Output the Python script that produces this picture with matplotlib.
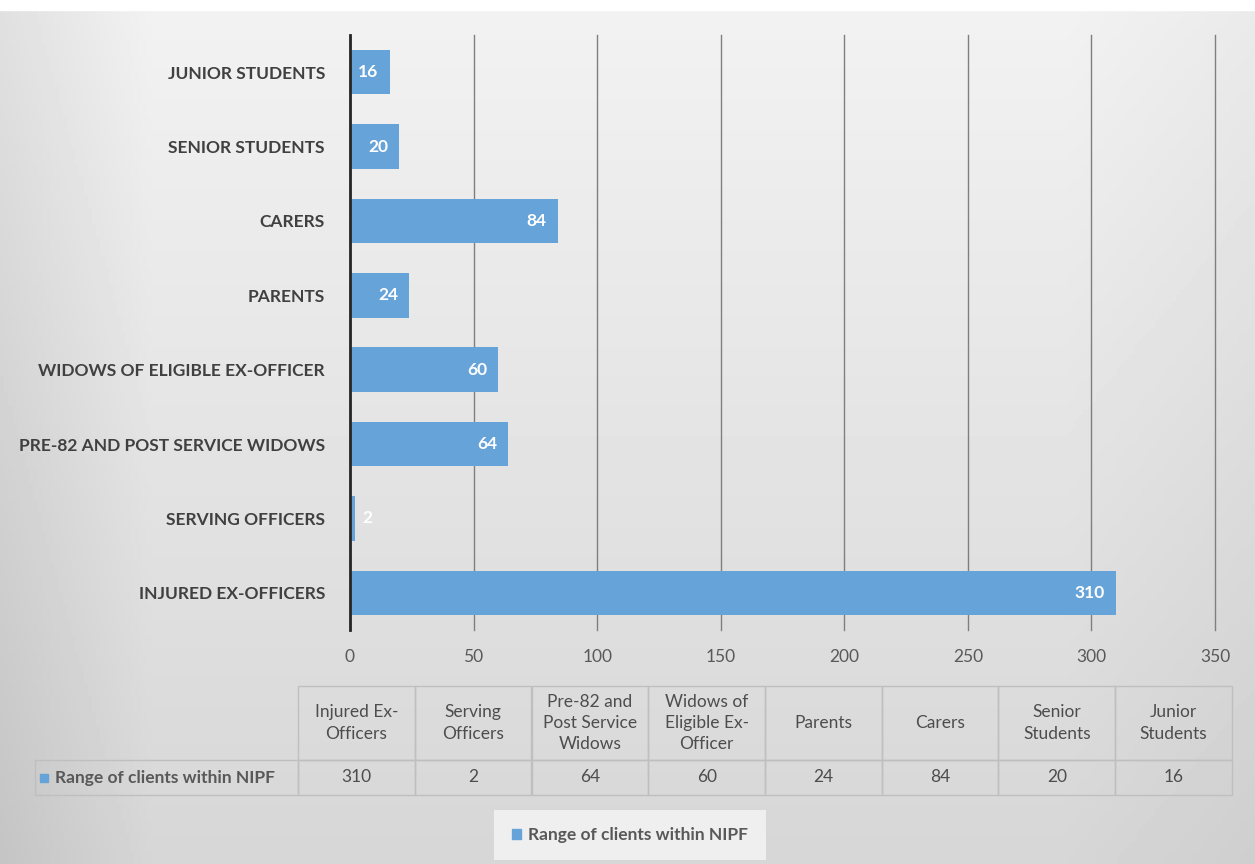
import numpy as np
import matplotlib.pyplot as plt
from matplotlib.patches import Rectangle

# data (bottom to top on the chart)
categories = ['Injured Ex-Officers', 'Serving Officers', 'Pre-82 and Post Service Widows',
              'Widows of Eligible Ex-Officer', 'Parents', 'Carers',
              'Senior Students', 'Junior Students']
table_headers = ['Injured Ex-\nOfficers', 'Serving\nOfficers', 'Pre-82 and\nPost Service\nWidows',
                 'Widows of\nEligible Ex-\nOfficer', 'Parents', 'Carers',
                 'Senior\nStudents', 'Junior\nStudents']
values = [310, 2, 64, 60, 24, 84, 20, 16]
series_name = 'Range of clients within NIPF'
x_ticks = [0, 50, 100, 150, 200, 250, 300, 350]

bar_color = '#66a3d9'
text_color = '#595959'
plt.rcParams['font.family'] = ['Lato', 'DejaVu Sans']

fig = plt.figure(figsize=(12.55, 8.64), dpi=100)

# gradient background
bg = fig.add_axes([0, 0, 1, 1], zorder=-10)
bg.axis('off')
yy, xx = np.mgrid[0:1:200j, 0:1:300j]
shade = 0.95 - 0.11 * yy - 0.07 * np.clip(1 - xx / 0.12, 0, 1) - 0.03 * np.clip((xx - 0.85) / 0.15, 0, 1)
bg.imshow(shade, cmap='gray', vmin=0, vmax=1, extent=[0, 1, 0, 1], aspect='auto')
bg.add_patch(Rectangle((0, 0.988), 1, 0.012, color='white'))
bg.set_xlim(0, 1)
bg.set_ylim(0, 1)

# bar chart
ax = fig.add_axes([350 / 1255, 1 - 630 / 864, 865 / 1255, 595 / 864])
ax.patch.set_alpha(0)
ypos = np.arange(len(categories))
ax.barh(ypos, values, height=0.6, color=bar_color, zorder=3)
ax.set_xlim(0, 350)
ax.set_ylim(-0.5, len(categories) - 0.5)
ax.set_xticks(x_ticks)
ax.set_xticklabels([str(t) for t in x_ticks], fontsize=12.5, color=text_color)
ax.set_yticks(ypos)
ax.set_yticklabels([c.upper() for c in categories], fontsize=12.5, fontweight='bold', color='#404040')
ax.tick_params(axis='x', length=0, pad=14)
ax.tick_params(axis='y', length=0, pad=18)
ax.grid(axis='x', color='#7f7f7f', linewidth=1, zorder=0)
for gl in ax.get_xgridlines():
    gl.set_clip_on(False)
for s in ['top', 'right', 'bottom']:
    ax.spines[s].set_visible(False)
ax.spines['left'].set_color('#262626')
ax.spines['left'].set_linewidth(2)
ax.spines['left'].set_zorder(4)

for y, v in zip(ypos, values):
    if v < 10:
        ax.annotate(str(v), (v, y), xytext=(5, 0), textcoords='offset points',
                    ha='left', va='center', color='white', fontsize=12.5, fontweight='bold')
    else:
        ax.annotate(str(v), (v, y), xytext=(-8, 0), textcoords='offset points',
                    ha='right', va='center', color='white', fontsize=12.5, fontweight='bold')

# data table
tx0, tx1, ty0, ty1 = 35, 1232, 686, 795
tw, th = tx1 - tx0, ty1 - ty0
tax = fig.add_axes([tx0 / 1255, 1 - ty1 / 864, tw / 1255, th / 864])
tax.axis('off')
tbl = tax.table(cellText=[[''] + table_headers, [''] + [str(v) for v in values]],
                cellLoc='center', bbox=[0, 0, 1, 1])
tbl.auto_set_font_size(False)
tbl.set_fontsize(12.5)
label_w = 263
col_w = (tw - label_w) / len(values)
for (r, c), cell in tbl.get_celld().items():
    cell.set_edgecolor('#bfbfbf')
    cell.set_linewidth(1)
    cell.set_facecolor('none')
    cell.get_text().set_color('#4d4d4d')
    cell.set_width(label_w if c == 0 else col_w)
    cell.set_height(74 if r == 0 else 35)
    if r == 0:
        cell.get_text().set_linespacing(1.4)
tbl[0, 0].visible_edges = ''
tax.add_patch(Rectangle((5 / tw, (17.5 - 4) / th), 8 / tw, 8 / th,
                        color=bar_color, transform=tax.transAxes, clip_on=False))
tax.text(20 / tw, 17.5 / th, series_name, transform=tax.transAxes,
         ha='left', va='center', fontsize=12.5, fontweight='bold', color=text_color)

# legend
fig.legend([Rectangle((0, 0), 1, 1, color=bar_color)], [series_name],
           loc='center', bbox_to_anchor=(630 / 1255, 1 - 835 / 864),
           frameon=True, facecolor='#efefef', edgecolor='none', framealpha=1,
           fancybox=False, handlelength=0.55, handleheight=0.55, handletextpad=0.4,
           borderpad=1.0, borderaxespad=0, prop={'size': 12.5, 'weight': 'bold'},
           labelcolor=text_color)

fig.savefig('out.png', dpi=100)
